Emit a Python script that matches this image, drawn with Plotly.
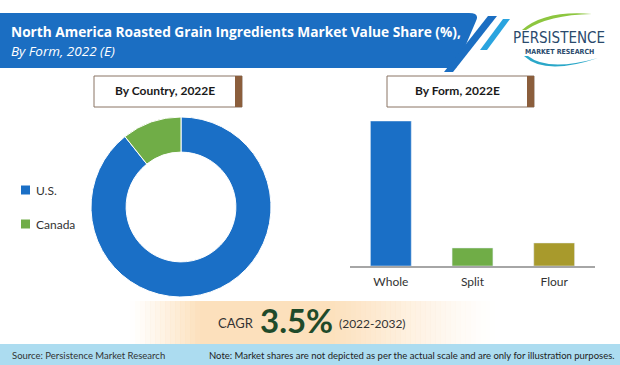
import plotly.graph_objects as go

W, H = 620, 365

# ---------------- data ----------------
title_line1 = "North America Roasted Grain Ingredients Market Value Share (%),"
title_line2 = "By Form, 2022 (E)"
panel_titles = ["By Country, 2022E", "By Form, 2022E"]

countries = ["U.S.", "Canada"]
country_share = [89.3, 10.7]
country_colors = ["#1a6fc6", "#70ad47"]

forms = ["Whole", "Split", "Flour"]
form_share = [78.0, 9.7, 12.4]
form_colors = ["#1a6fc6", "#70ad47", "#a89a2c"]

cagr_label = "CAGR"
cagr_value = "3.5%"
cagr_period = "(2022-2032)"
source_text = "Source: Persistence Market Research"
note_text = ("Note: Market shares are not depicted as per the actual scale "
             "and are only for illustration purposes.")
logo_top = "PERSISTENCE"
logo_bottom = "MARKET RESEARCH"


def px(x):
    return x / W


def py(y):
    return 1 - y / H


def P(x, y):
    return f"{px(x):.5f},{py(y):.5f}"


fig = go.Figure()

# donut
fig.add_trace(go.Pie(
    labels=countries, values=country_share, hole=0.61, sort=False,
    direction="clockwise", rotation=0,
    marker=dict(colors=country_colors, line=dict(color="white", width=1)),
    textinfo="none", hoverinfo="label+percent", showlegend=False,
    domain=dict(x=[px(91), px(271)], y=[py(297), py(117)]),
))

# bars
fig.add_trace(go.Bar(
    x=forms, y=form_share, marker_color=form_colors, width=0.5,
    showlegend=False, hoverinfo="x+y",
))

shapes = []
annotations = []

# peach CAGR glow (decorative strips)
x0, x1 = 130, 495
n = 73
for i in range(n):
    xa = x0 + (x1 - x0) * i / n
    xb = x0 + (x1 - x0) * (i + 1) / n
    xm = (xa + xb) / 2
    if xm < 200:
        a = (xm - x0) / 70
    elif xm < 330:
        a = 1.0
    else:
        a = max(0.0, 1 - (xm - 330) / 165)
    a = max(0.0, min(1.0, a)) ** 1.2
    shapes.append(dict(type="rect", xref="paper", yref="paper",
                       x0=px(xa), x1=px(xb) + 0.0005, y0=py(344), y1=py(301),
                       fillcolor=f"rgba(252,224,188,{a:.3f})", line=dict(width=0),
                       layer="below"))

# title banner
banner = ("M " + P(-5, 13) + " L " + P(469, 13) + " Q " + P(480, 13) + " " + P(476, 21)
          + " L " + P(456, 68) + " L " + P(-5, 68) + " Z")
shapes.append(dict(type="path", xref="paper", yref="paper", path=banner,
                   fillcolor="#1b6ec2", line=dict(width=0)))
# slashes
slash1 = "M " + P(488, 16) + " L " + P(497, 16) + " L " + P(453, 72) + " L " + P(444, 72) + " Z"
shapes.append(dict(type="path", xref="paper", yref="paper", path=slash1,
                   fillcolor="#1b6ec2", line=dict(width=0)))
slash2 = "M " + P(503, 19) + " L " + P(510, 19) + " L " + P(487, 50) + " L " + P(480, 50) + " Z"
shapes.append(dict(type="path", xref="paper", yref="paper", path=slash2,
                   fillcolor="#2aa4df", line=dict(width=0)))

# logo swooshes
sw1 = ("M " + P(522, 30) + " Q " + P(545, 10) + " " + P(592, 14)
       + " Q " + P(548, 15) + " " + P(526, 30) + " Z")
shapes.append(dict(type="path", xref="paper", yref="paper", path=sw1,
                   fillcolor="#8dc63f", line=dict(width=0)))
sw2 = ("M " + P(524, 56) + " Q " + P(545, 76) + " " + P(598, 58)
       + " Q " + P(548, 72) + " " + P(528, 56) + " Z")
shapes.append(dict(type="path", xref="paper", yref="paper", path=sw2,
                   fillcolor="#2aa7c8", line=dict(width=0)))

annotations.append(dict(text=logo_top, x=px(559), y=py(38), xref="paper", yref="paper",
                        showarrow=False, xanchor="center", yanchor="middle",
                        font=dict(family="DejaVu Sans Condensed, Liberation Sans Narrow, sans-serif",
                                  size=15, color="#2a4a6c")))
annotations.append(dict(text="<b>" + logo_bottom + "</b>", x=px(559), y=py(52), xref="paper", yref="paper",
                        showarrow=False, xanchor="center", yanchor="middle",
                        font=dict(family="DejaVu Sans Condensed, DejaVu Sans, sans-serif", size=7, color="#2a4a6c")))

# title text
annotations.append(dict(text="<b>" + title_line1 + "</b>", x=px(9), y=py(32), xref="paper", yref="paper",
                        showarrow=False, xanchor="left", yanchor="middle",
                        font=dict(family="Open Sans, sans-serif", size=13.7, color="white")))
annotations.append(dict(text="<i>" + title_line2 + "</i>", x=px(9), y=py(51), xref="paper", yref="paper",
                        showarrow=False, xanchor="left", yanchor="middle",
                        font=dict(family="Open Sans, sans-serif", size=13.5, color="white")))

# panel title boxes
for (bx0, bx1), t in zip([(94, 242), (387, 534)], panel_titles):
    shapes.append(dict(type="rect", xref="paper", yref="paper",
                       x0=px(bx0), x1=px(bx1), y0=py(107), y1=py(76),
                       fillcolor="white", line=dict(color="#8a7464", width=1)))
    shapes.append(dict(type="rect", xref="paper", yref="paper",
                       x0=px(bx1 - 7), x1=px(bx1), y0=py(107), y1=py(76),
                       fillcolor="#8b5e3c", line=dict(width=0)))
    annotations.append(dict(text="<b>" + t + "</b>", x=px((bx0 + bx1 - 7) / 2), y=py(91),
                            xref="paper", yref="paper", showarrow=False,
                            xanchor="center", yanchor="middle",
                            font=dict(family="Lato, sans-serif", size=12, color="#1a1a1a")))

# manual legend for donut
for i, (lab, col) in enumerate(zip(countries, country_colors)):
    cy = 190 + 34 * i
    shapes.append(dict(type="rect", xref="paper", yref="paper",
                       x0=px(21), x1=px(30), y0=py(cy + 4.5), y1=py(cy - 4.5),
                       fillcolor=col, line=dict(width=0)))
    annotations.append(dict(text=lab, x=px(34), y=py(cy), xref="paper", yref="paper",
                            showarrow=False, xanchor="left", yanchor="middle",
                            font=dict(family="Lato, sans-serif", size=12, color="#333333")))

# CAGR
annotations.append(dict(text=cagr_label, x=px(216), y=py(323), xref="paper", yref="paper",
                        showarrow=False, xanchor="left", yanchor="middle",
                        font=dict(family="Lato, sans-serif", size=13, color="#333333")))
annotations.append(dict(text="<b>" + cagr_value + "</b>", x=px(258), y=py(320), xref="paper", yref="paper",
                        showarrow=False, xanchor="left", yanchor="middle",
                        font=dict(family="Lato, sans-serif", size=33, color="#1f4a2a")))
annotations.append(dict(text=cagr_period, x=px(337), y=py(323), xref="paper", yref="paper",
                        showarrow=False, xanchor="left", yanchor="middle",
                        font=dict(family="Lato, sans-serif", size=12, color="#333333")))

# footer
shapes.append(dict(type="rect", xref="paper", yref="paper",
                   x0=0, x1=1, y0=0, y1=py(344), fillcolor="#acdcf0", line=dict(width=0)))
annotations.append(dict(text=source_text, x=px(10), y=py(355), xref="paper", yref="paper",
                        showarrow=False, xanchor="left", yanchor="middle",
                        font=dict(family="Lato, sans-serif", size=9.5, color="#333333")))
annotations.append(dict(text=note_text, x=px(617), y=py(355), xref="paper", yref="paper",
                        showarrow=False, xanchor="right", yanchor="middle",
                        font=dict(family="Lato, sans-serif", size=9.5, color="#222222")))

fig.update_layout(
    width=W, height=H, margin=dict(l=0, r=0, t=0, b=0),
    paper_bgcolor="white", plot_bgcolor="rgba(0,0,0,0)",
    shapes=shapes, annotations=annotations,
    xaxis=dict(domain=[px(350), px(595)], range=[-0.5, 2.5], showgrid=False,
               zeroline=False, showline=True, linecolor="#a6a6a6", linewidth=1.5,
               ticks="outside", ticklen=4, tickcolor="rgba(0,0,0,0)",
               tickfont=dict(family="Lato, sans-serif", size=12, color="#333333"),
               fixedrange=True),
    yaxis=dict(domain=[py(266), py(121)], range=[0, 78], visible=False,
               fixedrange=True),
    bargap=0.5,
)

fig.write_html("out.html", config=dict(displayModeBar=False),
               post_script="document.body.style.margin='0';document.body.style.overflow='hidden';")
